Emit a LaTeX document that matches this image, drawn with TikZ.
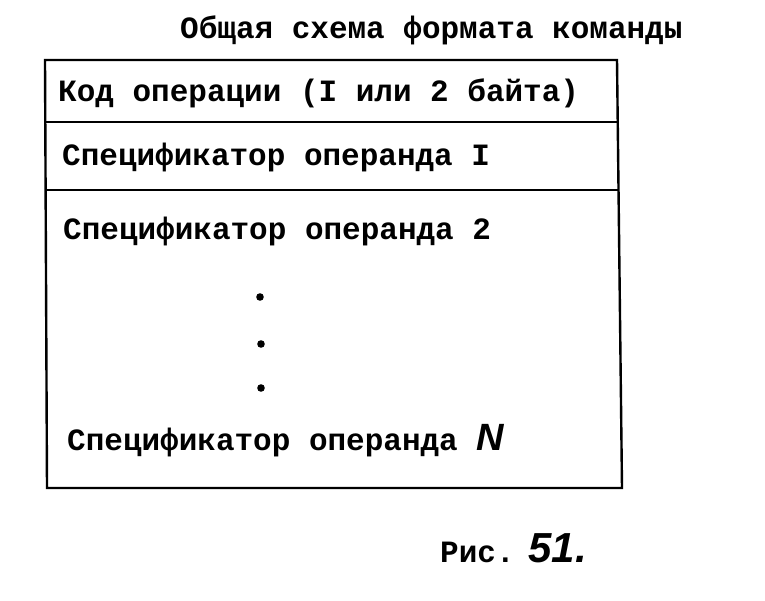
\documentclass[tikz,border=0pt]{standalone}
\usepackage{fontspec}
\setmainfont{Liberation Mono}
\newfontfamily\handfont{Liberation Sans}
\tikzset{
  txt/.style={anchor=base west, inner sep=0pt, font=\bfseries\fontsize{31}{31}\selectfont},
  frame/.style={line width=2.4pt}
}

\begin{document}
\begin{tikzpicture}[x=1pt, y=-1pt]
    \useasboundingbox (0, 0) rectangle (765, 600);
    \node[txt] (t) at (180, 38) {Общая схема формата команды};
    \node[txt] (a) at (58, 101) {Код операции (I или 2 байта)};
    \node[txt] (b) at (62, 165) {Спецификатор операнда I};
    \node[txt] (c) at (63, 239) {Спецификатор операнда 2};
    \node[txt] (d) at (67, 450) {Спецификатор операнда {\handfont\bfseries\itshape\fontsize{38}{38}\selectfont N}};
    \node[txt] (r) at (440, 562) {Рис.\hspace{14pt}{\handfont\bfseries\itshape\fontsize{42}{42}\selectfont 51.}};
    \fill (260, 297) circle (3.8);
    \fill (261, 344) circle (3.8);
    \fill (261, 388) circle (3.8);
    \draw [frame] (45, 60) -- (617, 60) -- (622, 488) -- (47, 488) -- cycle;
    \draw [frame] (45, 122) -- (618, 122);
    \draw [frame] (46, 190) -- (619, 190);
  \end{tikzpicture}
\end{document}
